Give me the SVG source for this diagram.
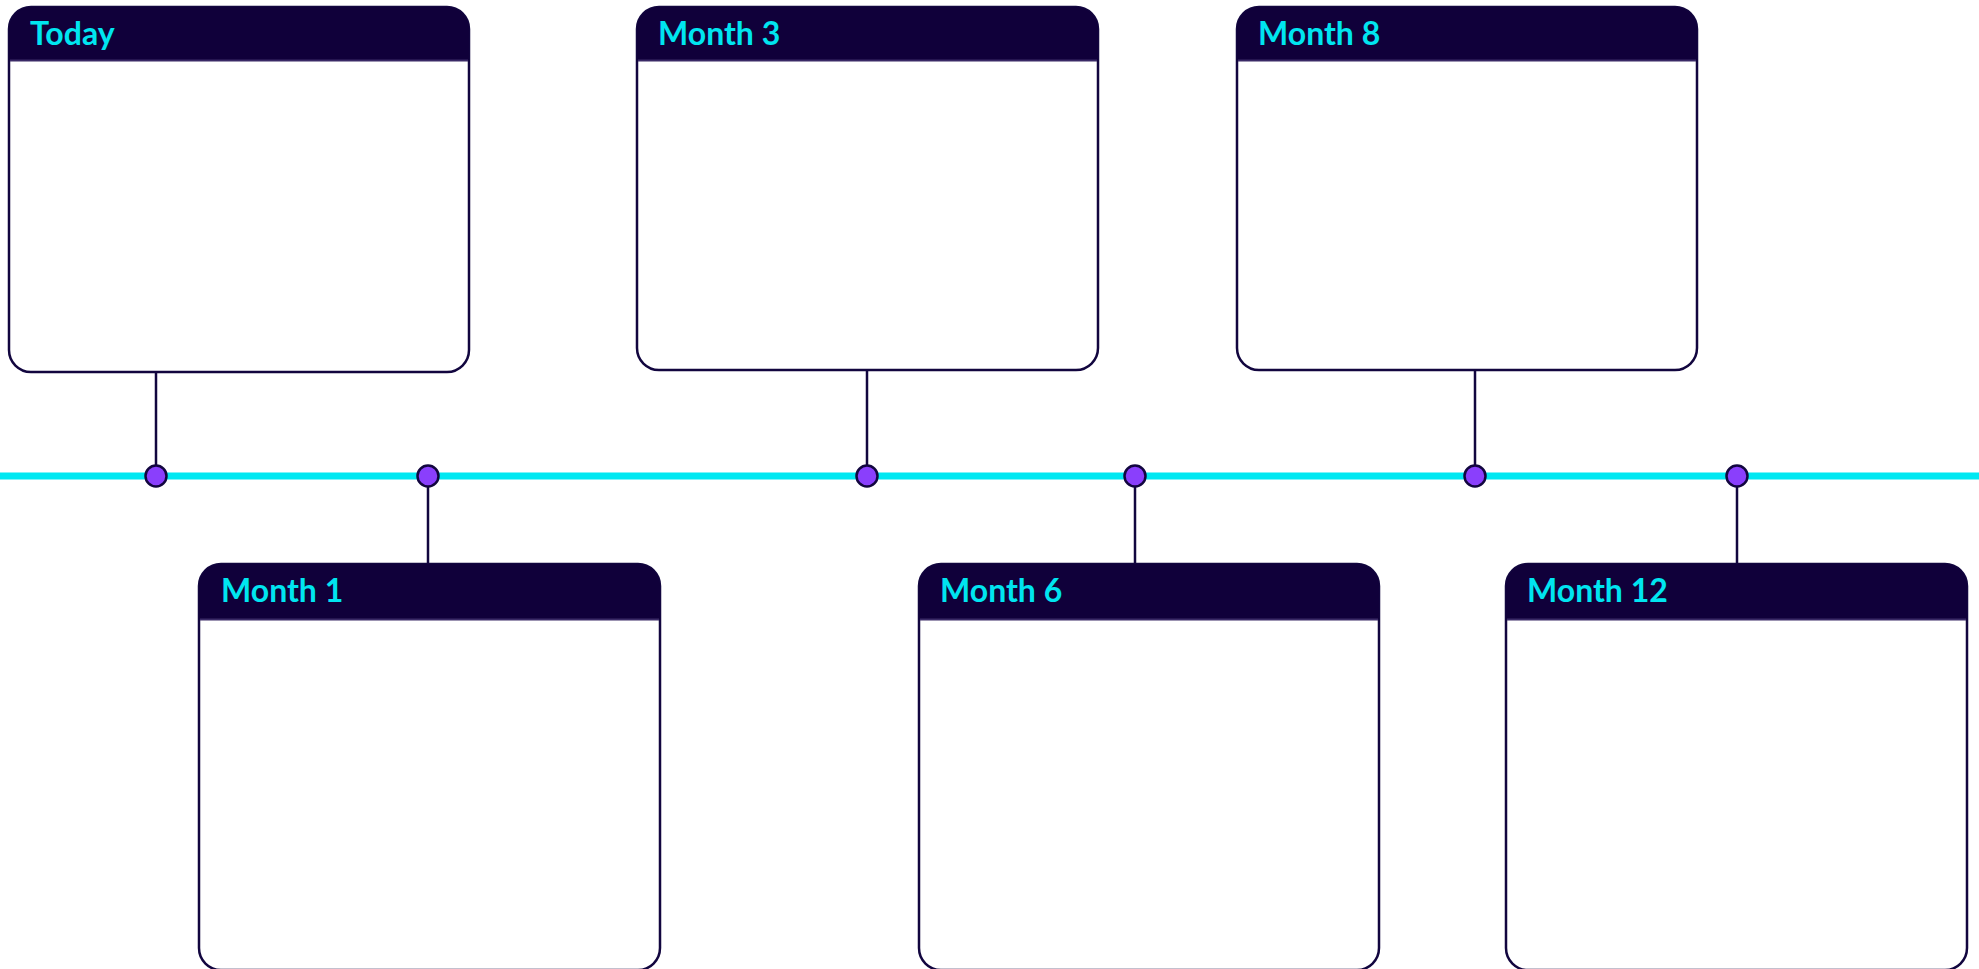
<svg xmlns="http://www.w3.org/2000/svg" width="1979" height="969" viewBox="0 0 1979 969">
<style>
.body{fill:#ffffff;stroke:#12063f;stroke-width:2.5}
.head{fill:#10003a}
.sep{stroke:#3a2a66;stroke-width:2}
.lbl{font-family:Lato,"Open Sans","Liberation Sans",sans-serif;font-weight:700;font-size:32px;fill:#00e5f0}
.conn{stroke:#12063f;stroke-width:2.5;fill:none}
.dot{fill:#8a3ffc;stroke:#12063f;stroke-width:2.5}
</style>
<rect width="1979" height="969" fill="#ffffff"/>
<g id="timeline">
<line x1="0" y1="476" x2="1979" y2="476" stroke="#00e8f2" stroke-width="7"/>
</g>
<g id="connectors">
<line class="conn" x1="156" y1="372" x2="156" y2="476"/>
<line class="conn" x1="428" y1="476" x2="428" y2="564"/>
<line class="conn" x1="867" y1="370" x2="867" y2="476"/>
<line class="conn" x1="1135" y1="476" x2="1135" y2="564"/>
<line class="conn" x1="1475" y1="370" x2="1475" y2="476"/>
<line class="conn" x1="1737" y1="476" x2="1737" y2="564"/>
<circle class="dot" cx="156" cy="476" r="10.5"/>
<circle class="dot" cx="428" cy="476" r="10.5"/>
<circle class="dot" cx="867" cy="476" r="10.5"/>
<circle class="dot" cx="1135" cy="476" r="10.5"/>
<circle class="dot" cx="1475" cy="476" r="10.5"/>
<circle class="dot" cx="1737" cy="476" r="10.5"/>
</g>
<g id="today">
<rect class="body" x="9" y="7" width="460" height="365" rx="22"/>
<path class="head" d="M9 60 V29 A22 22 0 0 1 31 7 H447 A22 22 0 0 1 469 29 V60 Z"/>
<line class="sep" x1="10" y1="60.5" x2="468" y2="60.5"/>
<text class="lbl" x="30" y="45">Today</text>
</g>
<g id="month3">
<rect class="body" x="637" y="7" width="461" height="363" rx="22"/>
<path class="head" d="M637 60 V29 A22 22 0 0 1 659 7 H1076 A22 22 0 0 1 1098 29 V60 Z"/>
<line class="sep" x1="638" y1="60.5" x2="1097" y2="60.5"/>
<text class="lbl" x="658" y="45">Month 3</text>
</g>
<g id="month8">
<rect class="body" x="1237" y="7" width="460" height="363" rx="22"/>
<path class="head" d="M1237 60 V29 A22 22 0 0 1 1259 7 H1675 A22 22 0 0 1 1697 29 V60 Z"/>
<line class="sep" x1="1238" y1="60.5" x2="1696" y2="60.5"/>
<text class="lbl" x="1258" y="45">Month 8</text>
</g>
<g id="month1">
<rect class="body" x="199" y="564" width="461" height="406" rx="22"/>
<path class="head" d="M199 619 V586 A22 22 0 0 1 221 564 H638 A22 22 0 0 1 660 586 V619 Z"/>
<line class="sep" x1="200" y1="619.5" x2="659" y2="619.5"/>
<text class="lbl" x="221" y="602">Month 1</text>
</g>
<g id="month6">
<rect class="body" x="919" y="564" width="460" height="406" rx="22"/>
<path class="head" d="M919 619 V586 A22 22 0 0 1 941 564 H1357 A22 22 0 0 1 1379 586 V619 Z"/>
<line class="sep" x1="920" y1="619.5" x2="1378" y2="619.5"/>
<text class="lbl" x="940" y="602">Month 6</text>
</g>
<g id="month12">
<rect class="body" x="1506" y="564" width="461" height="406" rx="22"/>
<path class="head" d="M1506 619 V586 A22 22 0 0 1 1528 564 H1945 A22 22 0 0 1 1967 586 V619 Z"/>
<line class="sep" x1="1507" y1="619.5" x2="1966" y2="619.5"/>
<text class="lbl" x="1527" y="602">Month 12</text>
</g>
</svg>
